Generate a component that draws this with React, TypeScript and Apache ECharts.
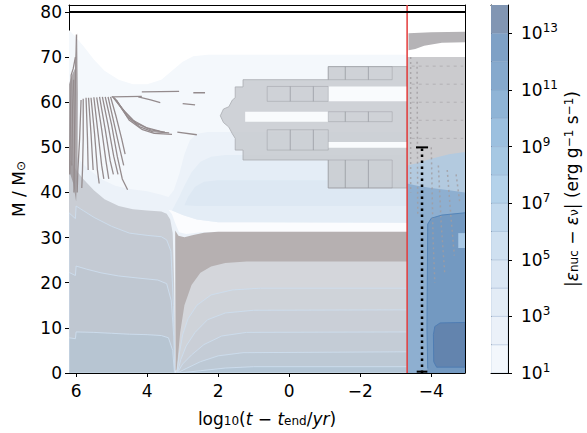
import React, { useEffect, useRef } from "react";
import * as echarts from "echarts";

// ---------------- data ----------------
const X_RANGE = [-4.95, 6.2];
const M_RANGE = [0, 81.55];
const X_TICKS = [6, 4, 2, 0, -2, -4];
const M_TICKS = [0, 10, 20, 30, 40, 50, 60, 70, 80];
const TOTAL_MASS = 80;
const T_COLLAPSE = -3.32;
const T_MARK = -3.74;
const M_MARK = 50;

const CB_RANGE = [1, 14];
const CB_LEVELS = [1, 2, 3, 4, 5, 6, 7, 8, 9, 10, 11, 12, 13];
const CB_TICKS = [1, 3, 5, 7, 9, 11, 13];

// energy-generation contour regions (log10 t, M)
const ENV_OUTER = [[6.2, 76], [6.05, 74.8], [5.8, 72.5], [5.5, 69.5], [5.2, 67], [4.8, 65], [4.4, 64], [4.0, 64], [3.6, 65], [3.3, 67], [3.0, 69], [2.7, 70.2], [2.3, 70.5], [-3.32, 70.5], [-3.32, 0], [6.2, 0]];
const ENV_MID = [[6.2, 50], [6.0, 48], [5.7, 45.5], [5.3, 43], [4.9, 41.5], [4.5, 40.8], [4.0, 40.3], [3.6, 39.5], [3.4, 39], [3.25, 40.5], [3.1, 44], [2.95, 48.5], [2.8, 51.5], [2.6, 53], [2.3, 53.4], [-3.32, 53.4], [-3.32, 0], [6.2, 0]];
const NOTCH = [[3.4, 36.2], [3.3, 35.2], [3.2, 33], [3.1, 31.2], [2.9, 30.8], [2.5, 31.2], [2.0, 31.3], [-3.32, 31.3], [-3.32, 33.3], [2.0, 33.4], [2.6, 34], [3.0, 35], [3.3, 36]];
const BULGE_1 = [[3.3, 36], [3.1, 39], [2.95, 41.5], [2.75, 44.5], [2.5, 46.8], [2.2, 47.9], [1.8, 48.3], [-3.32, 48.3], [-3.32, 33.3], [2.0, 33.4], [2.6, 34], [3.0, 35]];
const BULGE_2 = [[2.95, 37.2], [2.85, 39], [2.65, 41.3], [2.4, 42.4], [2.0, 42.7], [-3.32, 42.7], [-3.32, 37], [2.0, 37], [2.6, 37]];
const CORE_1 = [[6.2, 47.5], [6.1, 46.5], [6.0, 45], [5.8, 43], [5.5, 40.5], [5.2, 38.5], [4.8, 37], [4.4, 36.3], [4.0, 36], [3.6, 35.8], [3.45, 35.3], [3.35, 34], [3.28, 31], [3.24, 20], [3.21, 0], [6.2, 0]];
const CORE_2 = [[6.2, 35.5], [6.02, 34.2], [6.0, 37], [5.8, 36], [5.5, 34.5], [5.0, 32.5], [4.5, 31], [4.0, 30.5], [3.6, 30.2], [3.45, 29.5], [3.33, 27], [3.26, 15], [3.22, 0], [6.2, 0]];
const CORE_3 = [[6.2, 22.3], [6.02, 21.6], [6.0, 23.7], [5.7, 23], [5.3, 22.2], [4.8, 21.5], [4.2, 21], [3.7, 20.6], [3.45, 19.8], [3.32, 16], [3.25, 8], [3.22, 0], [6.2, 0]];
const CORE_4 = [[6.2, 7.8], [6.02, 7.6], [6.0, 9.1], [5.5, 9], [5.0, 8.8], [4.5, 8.6], [4.0, 8.5], [3.6, 8.3], [3.4, 7.8], [3.28, 5], [3.23, 0], [6.2, 0]];
const POST_1 = [[3.19, 0], [3.15, 5], [3.1, 12], [3.0, 18], [2.85, 21.5], [2.6, 23.5], [2.2, 24.5], [1.5, 24.8], [-3.32, 24.8], [-3.32, 0]];
const SHELL_BURN = [[3.21, 31.6], [3.12, 30.4], [2.95, 30.1], [2.7, 30.6], [2.4, 31.1], [2.0, 31.3], [-3.32, 31.3], [-3.32, 24.7], [1.2, 24.7], [1.8, 24.4], [2.2, 23.6], [2.5, 22.2], [2.75, 19.5], [2.95, 15], [3.07, 9], [3.14, 3], [3.17, 0.8], [3.2, 0.5]];
const POST_2 = [[3.16, 0], [3.1, 4], [3.0, 8.5], [2.85, 12], [2.6, 15], [2.2, 17.3], [1.6, 18.4], [0.8, 18.8], [-3.32, 18.8], [-3.32, 0]];
const POST_3 = [[3.15, 0], [3.05, 3], [2.9, 6], [2.65, 9], [2.3, 11.8], [1.8, 13.3], [1.0, 13.9], [-3.32, 14], [-3.32, 0]];
const POST_4 = [[3.15, 0], [3.0, 2], [2.75, 4], [2.4, 6.3], [1.9, 8.2], [1.2, 9], [-3.32, 9.1], [-3.32, 0]];
const POST_5 = [[3.15, 0], [2.9, 1], [2.5, 2.5], [2.0, 3.8], [1.3, 4.5], [-3.32, 4.7], [-3.32, 0]];
const POST_6 = [[3.1, 0], [2.5, 0.5], [1.8, 1.1], [1.0, 1.4], [-3.32, 1.4], [-3.32, 0]];

// convective zones (middle)
const CONV_ZONE = [[1.94, 57], [1.85, 58.5], [1.7, 59], [1.6, 60.5], [1.52, 61], [1.52, 63.4], [1.3, 63.4], [1.3, 65], [-1.1, 65], [-1.1, 67.9], [-3.32, 67.9], [-3.32, 41], [-1.1, 41], [-1.1, 47.2], [1.3, 47.2], [1.3, 49.4], [1.52, 49.4], [1.52, 52], [1.6, 53], [1.7, 54.5], [1.85, 55.5]];
const GAP_1 = [[-1.1, 63.5], [-3.32, 63.5], [-3.32, 60.2], [-1.1, 60.2]];
const GAP_2 = [[1.24, 57.9], [-1.1, 57.9], [-1.1, 55.7], [1.24, 55.7]];
const GAP_3 = [[-1.1, 51.2], [-3.32, 51.2], [-3.32, 49.9], [-1.1, 49.9]];
const CONV_CELLS = [
  [0.62, -0.03, 60.2, 63.5], [-0.03, -0.68, 60.2, 63.5], [-0.68, -1.1, 60.2, 63.5],
  [0.62, -0.03, 49.4, 53.9], [-0.03, -0.68, 49.4, 53.9], [-0.68, -1.1, 49.4, 53.9],
  [-1.1, -1.58, 65, 67.9], [-1.58, -2.23, 65, 67.9], [-2.23, -2.9, 65, 67.9],
  [-1.1, -1.58, 55.7, 57.9], [-1.58, -2.23, 55.7, 57.9], [-2.23, -2.9, 55.7, 57.9],
  [-1.1, -1.58, 41, 47.2], [-1.58, -2.23, 41, 47.2], [-2.23, -2.9, 41, 47.2],
];

// early convective strip (far left)
const EARLY_STRIP = [[6.2, 64], [6.12, 66], [6.03, 67.5], [5.97, 75.4], [5.95, 62], [5.96, 45], [6.0, 38], [6.08, 42], [6.2, 45]];

// post-collapse region
const R_BASE = [[-3.32, 0], [-3.32, 48], [-4.95, 48], [-4.95, 0]];
const R_LIGHT = [[-3.32, 0], [-3.32, 50], [-4.95, 50], [-4.95, 35.5], [-4.3, 35], [-4.0, 34.3], [-3.9, 33], [-3.88, 10], [-3.9, 1], [-3.85, 0]];
const R_PALE = [[-3.32, 49], [-3.32, 42], [-3.6, 41.5], [-4.0, 41], [-4.5, 40.5], [-4.95, 40], [-4.95, 49]];
const R_GREY = [[-3.32, 70], [-4.95, 70], [-4.95, 49], [-4.5, 48.5], [-4.0, 47.5], [-3.6, 46.5], [-3.32, 46]];
const R_TOPBAND = [[-3.36, 75.3], [-4.0, 75.5], [-4.95, 75.6], [-4.95, 73.3], [-4.3, 73.2], [-3.8, 72.5], [-3.55, 71.8], [-3.36, 71.5]];
const R_CORE = [[-4.06, 8.5], [-4.1, 10.3], [-4.25, 11.1], [-4.95, 11.2], [-4.95, 1.3], [-4.15, 1.3], [-4.07, 2.5]];
const R_SQUARE = [[-4.76, 31], [-4.95, 31], [-4.95, 27.7], [-4.76, 27.7]];
const R_CONTOUR = [[-3.9, 1], [-3.88, 10], [-3.9, 33], [-4.0, 34.3], [-4.3, 35], [-4.95, 35.5]];
const R_STREAKS = [
  [[-3.42, 70], [-3.42, 40]],
  [[-3.6, 69], [-3.62, 35]],
  [[-4.0, 50], [-4.05, 30], [-4.1, 20]],
  [[-4.2, 46], [-4.28, 33], [-4.38, 22]],
  [[-4.45, 45], [-4.55, 35], [-4.65, 26]],
  [[-4.7, 44], [-4.8, 38]],
];
const R_HSTREAKS = [
  [[-3.45, 68], [-4.9, 68]],
  [[-3.45, 64], [-4.9, 64]],
  [[-3.45, 60], [-4.9, 60]],
  [[-3.45, 56], [-4.9, 56]],
  [[-3.45, 52], [-4.9, 52]],
];

// convective episodes (scribbles, upper left)
const SCRIBBLES = [
  [[6.18, 44], [6.16, 56], [6.14, 66], [6.08, 67.5], [6.02, 70]],
  [[6.06, 40], [6.04, 55], [6.02, 64], [5.99, 75]],
  [[6.12, 46], [6.1, 58], [6.07, 65]],
  [[5.86, 60.5], [5.9, 52], [5.95, 45], [5.97, 40]],
  [[5.8, 60.8], [5.8, 52], [5.82, 45], [5.84, 41]],
  [[5.72, 61], [5.68, 52], [5.66, 45]],
  [[5.65, 61], [5.58, 53], [5.52, 45]],
  [[5.58, 61], [5.48, 53], [5.4, 45], [5.35, 42]],
  [[5.5, 61.1], [5.38, 53], [5.28, 46], [5.22, 43]],
  [[5.42, 61.1], [5.28, 54], [5.16, 47], [5.08, 43]],
  [[5.34, 61.2], [5.18, 54], [5.04, 47], [4.95, 44]],
  [[5.26, 61.2], [5.1, 55], [4.94, 48], [4.82, 44]],
  [[5.18, 61.2], [5.0, 55], [4.84, 48], [4.7, 43], [4.55, 40.6]],
  [[5.1, 61.2], [4.95, 56], [4.78, 50], [4.66, 46]],
  [[5.03, 61.2], [4.88, 57], [4.72, 52], [4.62, 48.5]],
  [[4.98, 61.3], [4.7, 58.5], [4.4, 56], [4.0, 54.3], [3.65, 53.6]],
  [[4.94, 61.1], [4.62, 57.8], [4.3, 55.3], [3.9, 53.9], [3.5, 53.4]],
  [[4.9, 60.8], [4.56, 56.8], [4.22, 54.6], [3.85, 53.5], [3.38, 53.2]],
  [[4.86, 60.4], [4.5, 56], [4.15, 54], [3.8, 53.1], [3.3, 52.9]],
  [[5.0, 61.2], [4.15, 61.3]],
  [[4.25, 61.2], [3.9, 60.5], [3.63, 59.9]],
  [[4.15, 62.3], [3.1, 62.4]],
  [[2.7, 62.1], [2.37, 62.1]],
  [[3.0, 59.7], [2.65, 59.4]],
  [[3.15, 53.4], [2.6, 52.8]],
];

// ---------------- styling ----------------
const FONT = "DejaVu Sans";
const FS = 17;
const CB_COLORS = ["#f3f7fc", "#ebf1f9", "#e3ecf6", "#dae6f3", "#cfe0f0", "#c2d9ed", "#b4d2ea", "#a6c8e3", "#9cc0df", "#8fb4d6", "#86a9cd", "#7fa1c6", "#8296b3"];
const CONTOUR_STROKE = "rgba(205,222,238,0.9)";

type Item = { pts?: number[][]; rect?: number[]; fill: string; stroke?: string; lw?: number };

const REGIONS: Item[] = [
  { pts: ENV_OUTER, fill: "#f4f8fc" },
  { pts: ENV_MID, fill: "#ecf2f9" },
  { pts: NOTCH, fill: "#fbfcfe" },
  { pts: BULGE_1, fill: "#e4edf6" },
  { pts: BULGE_2, fill: "#dde8f3" },
  { pts: CORE_1, fill: "#c9cdd4" },
  { pts: CORE_2, fill: "#c4cad3", stroke: CONTOUR_STROKE, lw: 1 },
  { pts: CORE_3, fill: "#bfc7d1", stroke: CONTOUR_STROKE, lw: 1 },
  { pts: CORE_4, fill: "#b7c5d2", stroke: CONTOUR_STROKE, lw: 1 },
  { pts: POST_1, fill: "#d4d6db" },
  { pts: SHELL_BURN, fill: "#b6b0b1" },
  { pts: POST_2, fill: "#cfd3d9", stroke: CONTOUR_STROKE, lw: 1 },
  { pts: POST_3, fill: "#cacfd7", stroke: CONTOUR_STROKE, lw: 1 },
  { pts: POST_4, fill: "#c4ccd6", stroke: CONTOUR_STROKE, lw: 1 },
  { pts: POST_5, fill: "#bdc9d5", stroke: CONTOUR_STROKE, lw: 1 },
  { pts: POST_6, fill: "#b4c6d6", stroke: CONTOUR_STROKE, lw: 1 },
  { pts: CONV_ZONE, fill: "rgba(198,200,205,0.8)", stroke: "rgba(170,172,178,0.8)", lw: 1 },
  { pts: GAP_1, fill: "#f9fbfd" },
  { pts: GAP_2, fill: "#f9fbfd" },
  { pts: GAP_3, fill: "#f9fbfd" },
  ...CONV_CELLS.map((r) => ({ rect: r, fill: "none", stroke: "rgba(150,152,160,0.45)", lw: 1 })),
  { pts: EARLY_STRIP, fill: "rgba(150,141,144,0.75)" },
  { pts: R_BASE, fill: "#7399c1" },
  { pts: R_LIGHT, fill: "#8eafd0" },
  { pts: R_PALE, fill: "#b3cadf" },
  { pts: R_GREY, fill: "#cbcbce" },
  { pts: R_TOPBAND, fill: "#b5b3b6" },
  { pts: R_CORE, fill: "#6384ae", stroke: "#4f7db3", lw: 1 },
  { pts: R_SQUARE, fill: "#a9c9e6" },
];

const minus = (v: number) => (v < 0 ? "\u2212" + Math.abs(v) : String(v));

const lineSeries = (data: number[][], color: string, width: number, type: any = "solid", z = 3) => ({
  type: "line",
  data,
  showSymbol: false,
  symbol: "none",
  silent: true,
  clip: true,
  z,
  lineStyle: { color, width, type, cap: "butt" },
});

const polySeries = (items: Item[], xAxisIndex: number, yAxisIndex: number, z = 1) => ({
  type: "custom",
  xAxisIndex,
  yAxisIndex,
  clip: true,
  silent: true,
  z,
  data: items.map(() => [0, 0]),
  renderItem: (params: any, api: any) => {
    const it = items[params.dataIndex];
    let points: number[][];
    if (it.rect) {
      const [x0, x1, y0, y1] = it.rect;
      points = [[x0, y0], [x1, y0], [x1, y1], [x0, y1]].map((p) => api.coord(p));
    } else {
      points = (it.pts as number[][]).map((p) => api.coord(p));
    }
    return {
      type: "polygon",
      shape: { points },
      style: { fill: it.fill, stroke: it.stroke || null, lineWidth: it.lw || 0 },
    };
  },
});

const RICH = {
  sub: { fontSize: 12, fontFamily: FONT, color: "#000", verticalAlign: "bottom", lineHeight: 13 },
  sup: { fontSize: 12, fontFamily: FONT, color: "#000", verticalAlign: "top", lineHeight: 13 },
  i: { fontSize: FS, fontFamily: FONT, color: "#000", fontStyle: "italic" },
};

export default function App() {
  const ref = useRef<HTMLDivElement>(null);
  useEffect(() => {
    if (!ref.current) return;
    const chart = echarts.init(ref.current, null, { renderer: "svg" });
    const axisText = { fontFamily: FONT, fontSize: FS, color: "#000" };
    const cbItems: Item[] = CB_LEVELS.map((lo, i) => ({ rect: [0, 1, lo, lo + 1], fill: CB_COLORS[i], stroke: "rgba(120,150,190,0.25)", lw: 1 }));
    const frameAxis = (extra: any) => ({
      type: "value",
      axisLine: { show: true, onZero: false, lineStyle: { color: "#000", width: 1 } },
      axisTick: { show: false }, axisLabel: { show: false }, splitLine: { show: false },
      ...extra,
    });
    chart.setOption({
      animation: false,
      backgroundColor: "#fff",
      grid: [
        { left: 69, top: 5, width: 396, height: 368, show: false },
        { left: 491, top: 5, width: 17, height: 368, show: false },
      ],
      xAxis: [
        {
          type: "value", gridIndex: 0, min: X_RANGE[0], max: X_RANGE[1], inverse: true,
          name: "log{sub|10}({i|t} \u2212 {i|t}{sub|end}/{i|yr})",
          nameLocation: "middle", nameGap: 37,
          nameTextStyle: { ...axisText, rich: RICH },
          axisLine: { show: true, onZero: false, lineStyle: { color: "#000", width: 1 } },
          axisTick: { show: true, length: 4, customValues: X_TICKS, lineStyle: { color: "#000" } },
          axisLabel: { ...axisText, margin: 9, customValues: X_TICKS, formatter: (v: number) => minus(v) },
          splitLine: { show: false },
        },
        frameAxis({ gridIndex: 0, min: X_RANGE[0], max: X_RANGE[1], inverse: true, position: "top" }),
        frameAxis({ gridIndex: 1, min: 0, max: 1, position: "bottom" }),
        frameAxis({ gridIndex: 1, min: 0, max: 1, position: "top" }),
      ],
      yAxis: [
        {
          type: "value", gridIndex: 0, min: M_RANGE[0], max: M_RANGE[1],
          name: "M / M{sub|\u2299}", nameLocation: "middle", nameGap: 42, nameRotate: 90,
          nameTextStyle: { ...axisText, rich: RICH },
          axisLine: { show: true, onZero: false, lineStyle: { color: "#000", width: 1 } },
          axisTick: { show: true, length: 4, customValues: M_TICKS, lineStyle: { color: "#000" } },
          axisLabel: { ...axisText, margin: 7, customValues: M_TICKS },
          splitLine: { show: false },
        },
        frameAxis({ gridIndex: 0, min: M_RANGE[0], max: M_RANGE[1], position: "right" }),
        {
          type: "value", gridIndex: 1, min: CB_RANGE[0], max: CB_RANGE[1], position: "right",
          name: "|{i|\u03b5}{sub|nuc} \u2212 {i|\u03b5}{sub|\u03bd}| (erg g{sup|\u22121} s{sup|\u22121})",
          nameLocation: "middle", nameGap: 55, nameRotate: 90,
          nameTextStyle: { ...axisText, rich: RICH },
          axisLine: { show: true, onZero: false, lineStyle: { color: "#000", width: 1 } },
          axisTick: { show: true, length: 4, customValues: CB_TICKS, lineStyle: { color: "#000" } },
          axisLabel: {
            ...axisText, margin: 13, customValues: CB_TICKS, lineHeight: 22,
            formatter: (v: number) => "10{sup|" + v + "}",
            rich: { sup: { fontSize: 12, fontFamily: FONT, color: "#000", verticalAlign: "top", lineHeight: 12 } },
          },
          splitLine: { show: false },
        },
        frameAxis({ gridIndex: 1, min: CB_RANGE[0], max: CB_RANGE[1], position: "left" }),
      ],
      series: [
        polySeries(REGIONS, 0, 0, 1),
        ...SCRIBBLES.map((s) => lineSeries(s, "#948b8d", 1.3, "solid", 2)),
        ...R_STREAKS.map((s) => lineSeries(s, "rgba(160,156,160,0.8)", 1.5, [2, 3], 2)),
        ...R_HSTREAKS.map((s) => lineSeries(s, "rgba(160,156,160,0.55)", 1, [3, 4], 2)),
        lineSeries(R_CONTOUR, "#5585b8", 1, "solid", 2),
        lineSeries([[T_COLLAPSE, M_RANGE[0]], [T_COLLAPSE, M_RANGE[1]]], "#e33b3b", 1.5, "solid", 4),
        lineSeries([[X_RANGE[1], TOTAL_MASS], [X_RANGE[0], TOTAL_MASS]], "#000", 2, "solid", 4),
        lineSeries([[T_MARK, 0], [T_MARK, M_MARK]], "#000", 2.5, [2.5, 3.5], 5),
        lineSeries([[T_MARK + 0.17, M_MARK], [T_MARK - 0.17, M_MARK]], "#000", 2, "solid", 5),
        lineSeries([[T_MARK + 0.15, 0.3], [T_MARK - 0.15, 0.3]], "#000", 2, "solid", 5),
        polySeries(cbItems, 2, 2, 1),
      ],
    });
    return () => chart.dispose();
  }, []);
  return <div ref={ref} style={{ position: "fixed", left: 0, top: 0, width: 587, height: 433 }} />;
}
